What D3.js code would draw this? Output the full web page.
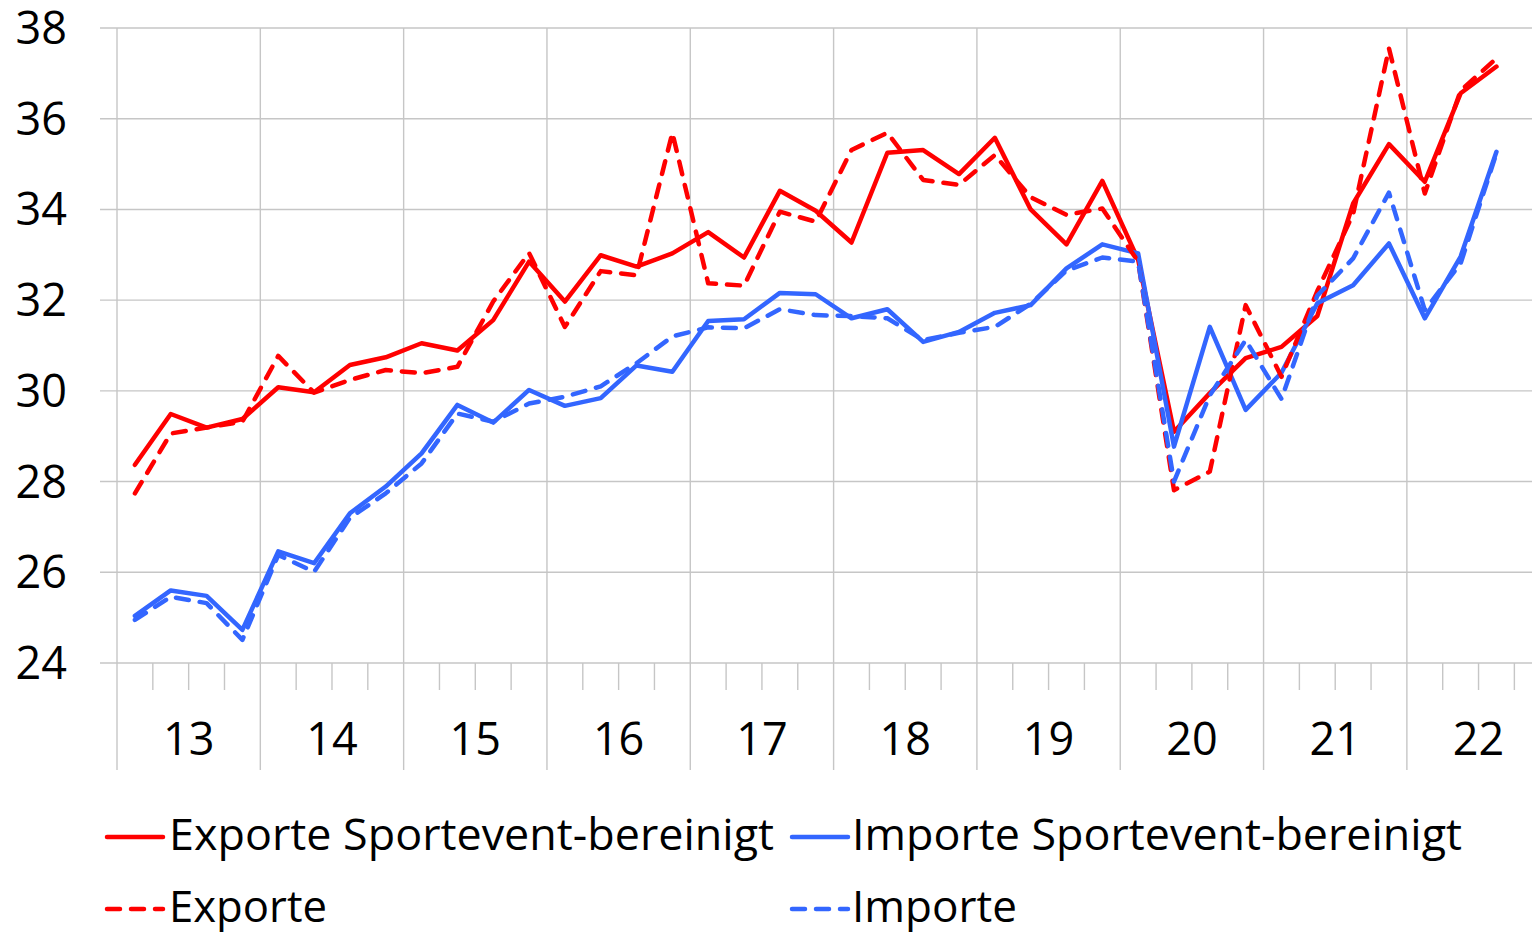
<!DOCTYPE html>
<html lang="de">
<head>
<meta charset="UTF-8" />
<title>Exporte / Importe</title>
<script src="https://d3js.org/d3.v7.min.js"></script>
<style>
  body { margin: 0; background: #fff; }
  text { font-family: "Open Sans", sans-serif; fill: #000; }
</style>
</head>
<body>
<svg id="chart"></svg>
<script>
// quarters 2013Q1 .. 2022Q3, axis runs to 2022Q4
var years = ["13", "14", "15", "16", "17", "18", "19", "20", "21", "22"];
var yTicks = [24, 26, 28, 30, 32, 34, 36, 38];

var exporteBereinigt = [28.37, 29.49, 29.19, 29.38, 30.08, 29.97, 30.57, 30.74, 31.05, 30.89,
  31.56, 32.85, 31.97, 32.99, 32.74, 33.03, 33.50, 32.94, 34.41, 33.97,
  33.27, 35.25, 35.31, 34.78, 35.58, 34.00, 33.23, 34.63, 32.89, 29.10,
  29.95, 30.72, 30.97, 31.65, 34.13, 35.44, 34.61, 36.56, 37.15];
var importeBereinigt = [25.04, 25.60, 25.48, 24.73, 26.46, 26.20, 27.30, 27.89, 28.62, 29.69,
  29.30, 30.02, 29.67, 29.84, 30.56, 30.42, 31.54, 31.58, 32.16, 32.13,
  31.60, 31.80, 31.08, 31.30, 31.72, 31.89, 32.70, 33.23, 33.03, 28.77,
  31.41, 29.58, 30.40, 31.93, 32.33, 33.25, 31.60, 32.96, 35.27];
var exporte = [27.74, 29.06, 29.19, 29.32, 30.77, 29.96, 30.24, 30.46, 30.39, 30.53,
  31.97, 33.04, 31.41, 32.64, 32.55, 35.69, 32.37, 32.32, 33.95, 33.73,
  35.31, 35.69, 34.65, 34.54, 35.20, 34.27, 33.88, 34.02, 32.85, 27.81,
  28.22, 31.89, 30.31, 32.20, 33.90, 37.55, 34.35, 36.62, 37.33];
var importe = [24.95, 25.46, 25.32, 24.51, 26.38, 26.01, 27.20, 27.74, 28.40, 29.50,
  29.32, 29.72, 29.87, 30.10, 30.61, 31.20, 31.40, 31.38, 31.80, 31.67,
  31.65, 31.60, 31.12, 31.28, 31.41, 31.92, 32.65, 32.94, 32.85, 28.00,
  29.90, 31.12, 29.82, 32.10, 32.92, 34.37, 31.78, 32.81, 35.24];

var series = [
  { name: "Exporte Sportevent-bereinigt", values: exporteBereinigt, color: "#FF0000", dash: null, col: 0, row: 0 },
  { name: "Importe Sportevent-bereinigt", values: importeBereinigt, color: "#3366FF", dash: null, col: 1, row: 0 },
  { name: "Exporte", values: exporte, color: "#FF0000", dash: "13,11", col: 0, row: 1 },
  { name: "Importe", values: importe, color: "#3366FF", dash: "13,11", col: 1, row: 1 }
];

var width = 1532, height = 932;
var plotLeft = 117, plotTop = 28, plotBottom = 663;
var nQuarters = years.length * 4;
var qw = 35.83;

var svg = d3.select("#chart").attr("width", width).attr("height", height);

var x = d3.scaleLinear().domain([0, nQuarters]).range([plotLeft, plotLeft + nQuarters * qw]);
var y = d3.scaleLinear().domain([24, 38]).range([plotBottom, plotTop]);

var grid = "#C6C6C6";

// horizontal gridlines
svg.append("g").selectAll("line").data(yTicks).join("line")
  .attr("x1", 100).attr("x2", x(nQuarters))
  .attr("y1", d => y(d)).attr("y2", d => y(d))
  .attr("stroke", grid).attr("stroke-width", 1.4);

// year separators, running down through the label area
svg.append("g").selectAll("line").data(d3.range(0, years.length + 1)).join("line")
  .attr("x1", d => x(d * 4)).attr("x2", d => x(d * 4))
  .attr("y1", plotTop).attr("y2", 770)
  .attr("stroke", grid).attr("stroke-width", 1.4);

// quarter ticks
var qt = d3.range(1, nQuarters).filter(d => d % 4 != 0);
svg.append("g").selectAll("line").data(qt).join("line")
  .attr("x1", d => x(d)).attr("x2", d => x(d))
  .attr("y1", plotBottom).attr("y2", 690)
  .attr("stroke", grid).attr("stroke-width", 1.4);

// y labels
svg.append("g").selectAll("text").data(yTicks).join("text")
  .attr("x", 67).attr("y", d => y(d) + 16)
  .attr("text-anchor", "end")
  .style("font-size", "45px")
  .text(d => d);

// year labels
svg.append("g").selectAll("text").data(years).join("text")
  .attr("x", (d, i) => x(i * 4 + 2)).attr("y", 755)
  .attr("text-anchor", "middle")
  .style("font-size", "45px")
  .text(d => d);

// lines
var line = d3.line().x((d, i) => x(i + 0.5)).y(d => y(d));

svg.append("g").selectAll("path").data(series).join("path")
  .attr("d", d => line(d.values))
  .attr("fill", "none")
  .attr("stroke", d => d.color)
  .attr("stroke-width", 4.5)
  .attr("stroke-linejoin", "round")
  .attr("stroke-linecap", "round")
  .attr("stroke-dasharray", d => d.dash);

// legend
var colX = [105, 790], rowY = [837, 909];
var textLen = { "Exporte Sportevent-bereinigt": 605, "Importe Sportevent-bereinigt": 610, "Exporte": 158, "Importe": 165 };
var lg = svg.append("g").selectAll("g").data(series).join("g")
  .attr("transform", d => `translate(${colX[d.col]},${rowY[d.row]})`);
lg.append("line")
  .attr("x1", 2).attr("x2", 58).attr("y1", 0).attr("y2", 0)
  .attr("stroke", d => d.color).attr("stroke-width", 4.5)
  .attr("stroke-linecap", "round")
  .attr("stroke-dasharray", d => d.dash);
lg.append("text")
  .attr("x", d => d.col == 0 ? 64 : 62).attr("y", 13)
  .style("font-size", "44px")
  .attr("textLength", d => textLen[d.name])
  .attr("lengthAdjust", "spacingAndGlyphs")
  .text(d => d.name);
</script>
</body>
</html>
